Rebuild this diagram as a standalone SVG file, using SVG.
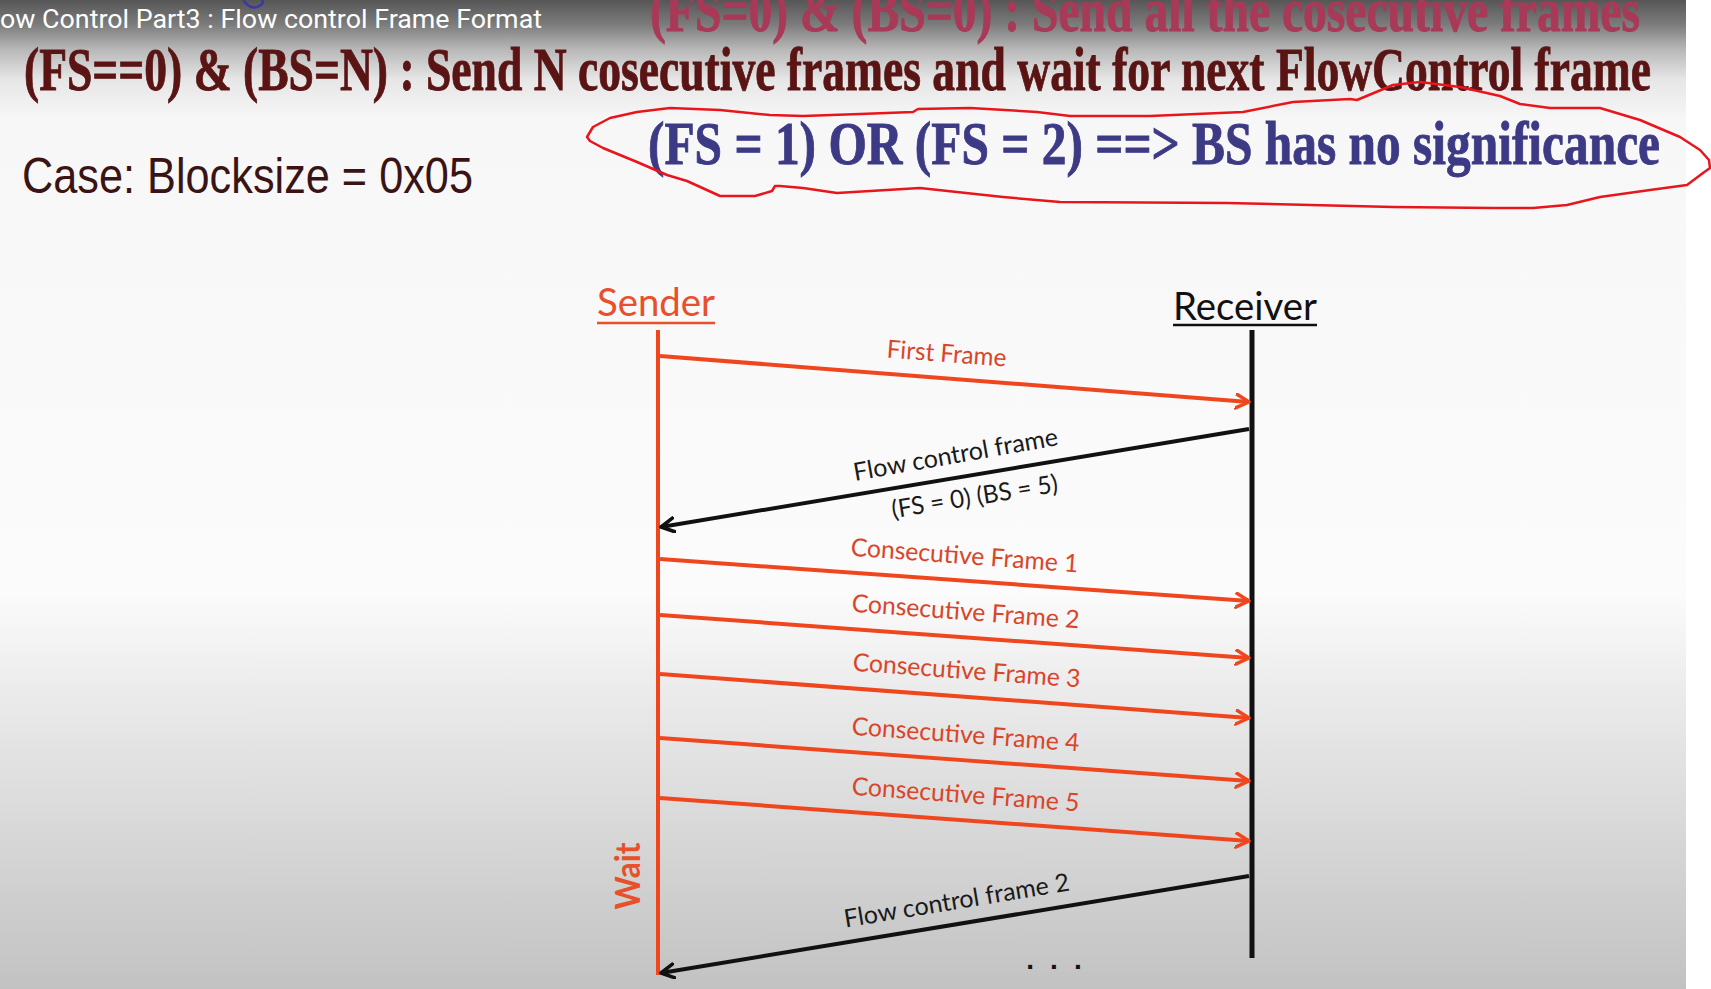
<svg xmlns="http://www.w3.org/2000/svg" width="1711" height="989" viewBox="0 0 1711 989">
  <defs>
    <linearGradient id="bg" x1="0" y1="0" x2="0" y2="1">
      <stop offset="0" stop-color="#565656"/>
      <stop offset="0.025" stop-color="#7c7c7c"/>
      <stop offset="0.05" stop-color="#b8b8b8"/>
      <stop offset="0.08" stop-color="#e6e6e6"/>
      <stop offset="0.12" stop-color="#f7f7f7"/>
      <stop offset="0.6" stop-color="#fbfbfb"/>
      <stop offset="0.7" stop-color="#ebebeb"/>
      <stop offset="1" stop-color="#c2c2c2"/>
    </linearGradient>
    <marker id="ahRed" markerUnits="userSpaceOnUse" markerWidth="20" markerHeight="20" refX="14" refY="8" orient="auto">
      <path d="M1,1 L14,8 L1,15" fill="none" stroke="#f0461e" stroke-width="3.5" stroke-linecap="round" stroke-linejoin="round"/>
    </marker>
    <marker id="ahBlack" markerUnits="userSpaceOnUse" markerWidth="20" markerHeight="20" refX="14" refY="8" orient="auto">
      <path d="M1,1 L14,8 L1,15" fill="none" stroke="#111111" stroke-width="3.5" stroke-linecap="round" stroke-linejoin="round"/>
    </marker>
    <style>
      .cond { font-family: "Liberation Serif", serif; font-weight: bold; font-size: 61px; stroke-width: 0.9px; }
      .lbl { font-family: Lato, "Open Sans", sans-serif; font-size: 25px; }
      .red { fill: #d9452a; }
      .blk { fill: #1a1a1a; }
      .hdr { font-family: Lato, "Open Sans", sans-serif; font-size: 38px; }
      .redline { stroke: #f0461e; stroke-width: 4; fill: none; }
      .blkline { stroke: #111111; stroke-width: 4; fill: none; }
    </style>
  </defs>

  <!-- background -->
  <rect x="0" y="0" width="1711" height="989" fill="#ffffff"/>
  <rect x="0" y="0" width="1686" height="989" fill="url(#bg)"/>

  <!-- header texts -->
  <g id="header">
    <text x="0" y="28" font-family="Roboto, sans-serif" font-size="26" fill="#ffffff" textLength="542" lengthAdjust="spacingAndGlyphs">ow Control Part3 : Flow control Frame Format</text>
    <path d="M244,1 Q250,9 257,7 Q265,4 262,0" fill="none" stroke="#3a3aa0" stroke-width="2.5" stroke-linecap="round"/>
    <text class="cond" x="650" y="31" fill="#a83a58" stroke="#a83a58" textLength="990" lengthAdjust="spacingAndGlyphs">(FS=0) &amp; (BS=0) : Send all the cosecutive frames</text>
    <text class="cond" x="24" y="90" fill="#5a1414" stroke="#5a1414" textLength="1627" lengthAdjust="spacingAndGlyphs">(FS==0) &amp; (BS=N) : Send N cosecutive frames and wait for next FlowControl frame</text>
    <text class="cond" x="648" y="164" fill="#3d3a85" stroke="#3d3a85" textLength="1012" lengthAdjust="spacingAndGlyphs">(FS = 1) OR (FS = 2) ==&gt; BS has no significance</text>
    <text x="22" y="193" font-family="'Liberation Sans', sans-serif" font-size="50" fill="#3a1414" textLength="451" lengthAdjust="spacingAndGlyphs">Case: Blocksize = 0x05</text>
  </g>

  <!-- red hand-drawn loop -->
  <path id="annotation" d="M587,137 L593,127 L610,118 L637,112 L670,108 L720,110 L770,115 L803,116 L860,114 L913,112 L918,109 L970,108 L1037,112 L1070,116 L1150,116 L1243,112 L1293,102 L1350,99 L1357,100 L1393,85 L1420,82 L1460,87 L1500,96 L1520,104 L1550,108 L1600,108 L1640,120 L1680,137 L1700,150 L1709,160 L1710,168 L1703,173 L1687,185 L1650,190 L1600,197 L1567,205 L1533,208 L1493,208 L1393,207 L1227,203 L1060,202 L1003,197 L920,188 L837,193 L803,188 L780,186 L775,186 L772,191 L755,196 L720,196 L687,181 L667,175 L637,162 L603,148 L590,141 Z" fill="none" stroke="#e8161c" stroke-width="2.5" stroke-linejoin="round"/>

  <!-- nodes -->
  <g id="sender">
    <text class="hdr" x="656" y="316" fill="#e8502a" text-anchor="middle" textLength="118" lengthAdjust="spacingAndGlyphs">Sender</text>
    <line x1="597" y1="323" x2="715" y2="323" stroke="#e8502a" stroke-width="2.5"/>
    <line class="redline" x1="658" y1="330" x2="658" y2="975"/>
    <text transform="translate(640,876) rotate(-90)" text-anchor="middle" font-family="Lato, 'Open Sans', sans-serif" font-weight="bold" font-size="34" fill="#e8502a" textLength="67" lengthAdjust="spacingAndGlyphs">Wait</text>
  </g>
  <g id="receiver">
    <text class="hdr" x="1245" y="320" fill="#111111" text-anchor="middle" textLength="144" lengthAdjust="spacingAndGlyphs">Receiver</text>
    <line x1="1173" y1="325" x2="1317" y2="325" stroke="#111111" stroke-width="2.5"/>
    <line x1="1252" y1="330" x2="1252" y2="958" stroke="#111111" stroke-width="5"/>
  </g>

  <!-- connectors -->
  <g id="connectors">
    <line class="redline" x1="660" y1="356" x2="1249" y2="402" marker-end="url(#ahRed)"/>
    <text class="lbl red" x="946" y="362" text-anchor="middle" transform="rotate(4.4 946 362)" textLength="120" lengthAdjust="spacingAndGlyphs">First Frame</text>

    <line class="blkline" x1="1249" y1="429" x2="661" y2="527" marker-end="url(#ahBlack)"/>
    <text class="lbl blk" x="957" y="463" text-anchor="middle" transform="rotate(-10 957 463)" textLength="207" lengthAdjust="spacingAndGlyphs">Flow control frame</text>
    <text class="lbl blk" x="976" y="505" text-anchor="middle" transform="rotate(-9 976 505)" textLength="168" lengthAdjust="spacingAndGlyphs">(FS = 0) (BS = 5)</text>

    <line class="redline" x1="660" y1="559" x2="1249" y2="601" marker-end="url(#ahRed)"/>
    <text class="lbl red" x="964" y="564" text-anchor="middle" transform="rotate(4.2 964 564)" textLength="228" lengthAdjust="spacingAndGlyphs">Consecutive Frame 1</text>

    <line class="redline" x1="660" y1="615" x2="1249" y2="658" marker-end="url(#ahRed)"/>
    <text class="lbl red" x="965" y="620" text-anchor="middle" transform="rotate(4.2 965 620)" textLength="228" lengthAdjust="spacingAndGlyphs">Consecutive Frame 2</text>

    <line class="redline" x1="660" y1="674" x2="1249" y2="718" marker-end="url(#ahRed)"/>
    <text class="lbl red" x="966" y="679" text-anchor="middle" transform="rotate(4.2 966 679)" textLength="228" lengthAdjust="spacingAndGlyphs">Consecutive Frame 3</text>

    <line class="redline" x1="660" y1="738" x2="1249" y2="781" marker-end="url(#ahRed)"/>
    <text class="lbl red" x="965" y="743" text-anchor="middle" transform="rotate(4.2 965 743)" textLength="228" lengthAdjust="spacingAndGlyphs">Consecutive Frame 4</text>

    <line class="redline" x1="660" y1="798" x2="1249" y2="841" marker-end="url(#ahRed)"/>
    <text class="lbl red" x="965" y="803" text-anchor="middle" transform="rotate(4.2 965 803)" textLength="228" lengthAdjust="spacingAndGlyphs">Consecutive Frame 5</text>

    <line class="blkline" x1="1249" y1="876" x2="661" y2="973" marker-end="url(#ahBlack)"/>
    <text class="lbl blk" x="958" y="909" text-anchor="middle" transform="rotate(-9.4 958 909)" textLength="228" lengthAdjust="spacingAndGlyphs">Flow control frame 2</text>

    <text x="1062" y="969" text-anchor="middle" font-family="'Liberation Sans', sans-serif" font-weight="bold" font-size="28" letter-spacing="16" fill="#111111">...</text>
  </g>
</svg>
